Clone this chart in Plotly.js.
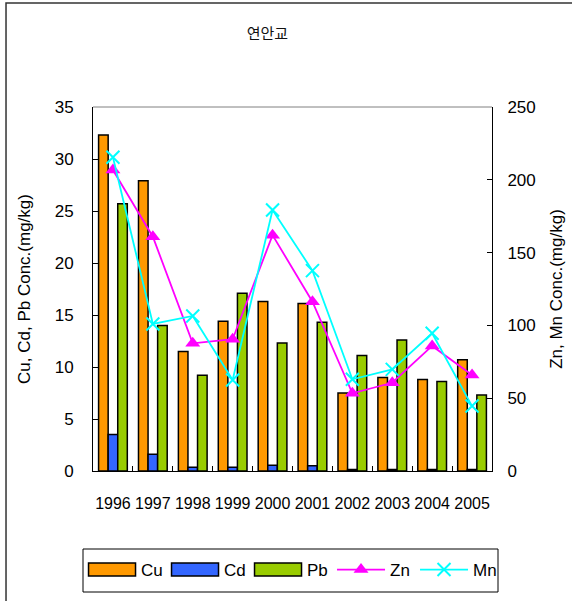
<!DOCTYPE html>
<html>
<head>
<meta charset="utf-8">
<script src="https://cdn.plot.ly/plotly-3.0.1.min.js"></script>
<style>
  html, body { margin: 0; padding: 0; background: #fff; }
  #chart { width: 572px; height: 601px; }
</style>
</head>
<body>
<div id="chart"></div>
<script>
// Sampling years
const years = ['1996', '1997', '1998', '1999', '2000', '2001', '2002', '2003', '2004', '2005'];

// Left axis series (mg/kg)
const cu = [32.3, 27.9, 11.5, 14.4, 16.3, 16.1, 7.5, 9.0, 8.8, 10.7];
const cd = [3.5, 1.6, 0.35, 0.35, 0.55, 0.5, 0.15, 0.15, 0.15, 0.15];
const pb = [25.7, 14.0, 9.2, 17.1, 12.3, 14.3, 11.1, 12.6, 8.6, 7.3];

// Right axis series (mg/kg)
const zn = [206.7, 160.9, 87.7, 90.5, 162.0, 116.3, 53.4, 60.6, 85.9, 65.9];
const mn = [215.5, 101.0, 106.5, 62.5, 179.3, 137.6, 63.0, 69.8, 94.6, 44.6];

const leftTicks = [0, 5, 10, 15, 20, 25, 30, 35];
const rightTicks = [0, 50, 100, 150, 200, 250];

const FONT = 'Liberation Sans, Arial, sans-serif';
const barLine = { color: '#000000', width: 1.5 };

const traces = [
  { type: 'bar', name: 'Cu', x: years, y: cu, marker: { color: '#FF9900', line: barLine } },
  { type: 'bar', name: 'Cd', x: years, y: cd, marker: { color: '#3366FF', line: barLine } },
  { type: 'bar', name: 'Pb', x: years, y: pb, marker: { color: '#99CC00', line: barLine } },
  {
    type: 'scatter', mode: 'lines+markers', name: 'Zn', x: years, y: zn, yaxis: 'y2',
    line: { color: '#FF00FF', width: 1.8 },
    marker: { symbol: 'triangle-up', size: 13, color: '#FF00FF' }
  },
  {
    type: 'scatter', mode: 'lines+markers', name: 'Mn', x: years, y: mn, yaxis: 'y2',
    line: { color: '#00FFFF', width: 1.8 },
    marker: { symbol: 'x-thin', size: 13, color: '#00FFFF', line: { color: '#00FFFF', width: 2 } }
  }
];

const layout = {
  width: 572,
  height: 601,
  margin: { l: 93, r: 80, t: 107, b: 130, pad: 0 },
  paper_bgcolor: '#ffffff',
  plot_bgcolor: '#ffffff',
  font: { family: FONT, size: 17, color: '#000000' },
  showlegend: true,
  barmode: 'group',
  bargap: 0.28,
  bargroupgap: 0,
  title: {
    text: '연안교',
    font: { family: 'Noto Sans CJK KR, sans-serif', size: 15, color: '#111111' },
    x: 0.437, xref: 'paper', xanchor: 'center',
    y: 0.944, yref: 'container', yanchor: 'middle'
  },
  xaxis: {
    type: 'category', automargin: false, tickangle: 0,
    range: [-0.5, years.length - 0.5],
    showline: true, linecolor: '#000000', linewidth: 1,
    ticks: 'inside', ticklen: 5, tickcolor: '#000000', tickson: 'boundaries',
    ticklabelstandoff: 18,
    tickfont: { family: FONT, size: 16 },
    showgrid: false, zeroline: false, fixedrange: true
  },
  yaxis: {
    range: [0, 35], tickvals: leftTicks, automargin: false,
    showline: true, linecolor: '#000000', linewidth: 1,
    ticks: 'inside', ticklen: 5, tickcolor: '#000000',
    ticklabelstandoff: 15,
    tickfont: { family: FONT, size: 17 },
    showgrid: false, zeroline: false,
    title: { text: 'Cu, Cd, Pb Conc.(mg/kg)', font: { family: FONT, size: 17 }, standoff: 19 }
  },
  yaxis2: {
    range: [0, 250], tickvals: rightTicks, automargin: false,
    overlaying: 'y', side: 'right',
    showline: true, linecolor: '#000000', linewidth: 1,
    ticks: 'inside', ticklen: 5, tickcolor: '#000000',
    ticklabelstandoff: 11,
    tickfont: { family: FONT, size: 17 },
    showgrid: false, zeroline: false,
    title: { text: 'Zn, Mn Conc.(mg/kg)', font: { family: FONT, size: 17 }, standoff: 15 }
  },
  legend: {
    orientation: 'h',
    x: -0.025, xanchor: 'left',
    y: -0.272, yanchor: 'middle',
    borderwidth: 0,
    bgcolor: 'rgba(0,0,0,0)',
    font: { family: FONT, size: 17 },
    itemwidth: 48,
    entrywidth: 20, entrywidthmode: 'pixels',
    traceorder: 'normal'
  },
  shapes: [
    // grey top edge of the plot area
    { type: 'line', xref: 'paper', yref: 'paper', x0: 0, x1: 1, y0: 1, y1: 1,
      line: { color: '#808080', width: 1 } },
    // legend frame
    { type: 'rect', xref: 'paper', yref: 'paper',
      x0: (83 - 93) / 399, x1: (498 - 93) / 399, y0: (471 - 592) / 364, y1: (471 - 549) / 364,
      line: { color: '#000000', width: 1 }, fillcolor: 'rgba(0,0,0,0)' },
    // outer chart frame (runs past the right and bottom edges)
    { type: 'rect', xref: 'paper', yref: 'paper', x0: -0.218, x1: 1.35, y0: -0.45, y1: 1.2857,
      line: { color: '#333333', width: 1.5 }, fillcolor: 'rgba(0,0,0,0)' }
  ]
};

Plotly.newPlot('chart', traces, layout, { displayModeBar: false, staticPlot: true }).then(function (gd) {
  // widen the bar swatches in the legend to long rectangles
  gd.querySelectorAll('.legend .traces').forEach(function (g) {
    const name = g.textContent.trim();
    if (name === 'Cu' || name === 'Cd' || name === 'Pb') {
      g.querySelectorAll('.legendpoints path').forEach(function (p) {
        p.setAttribute('d', 'M23.5,6.5H-23.5V-6.5H23.5Z');
      });
    }
  });
});
</script>
</body>
</html>
